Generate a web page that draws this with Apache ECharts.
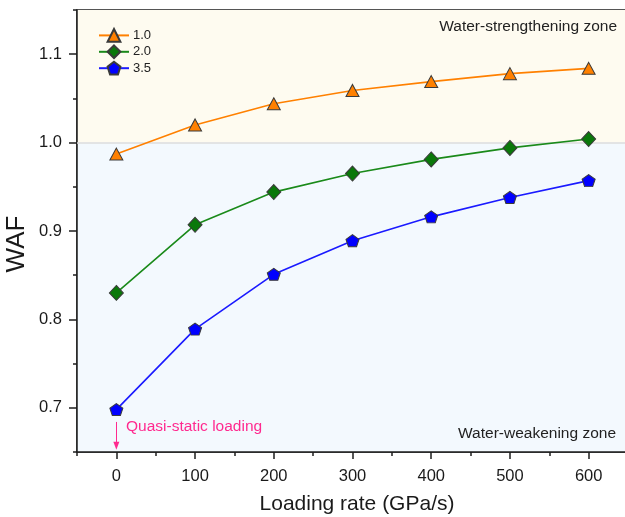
<!DOCTYPE html>
<html>
<head>
<meta charset="utf-8">
<script src="https://cdn.jsdelivr.net/npm/echarts@6/dist/echarts.min.js"></script>
<style>
  html, body { margin: 0; padding: 0; background: #ffffff; }
  #chart { width: 625px; height: 517px; }
</style>
</head>
<body>
<div id="chart"></div>
<script>
// Loading rate (GPa/s) and water adjustment factor for three water contents
const loadingRates = [0, 100, 200, 300, 400, 500, 600];
const seriesNames = ['1.0', '2.0', '3.5'];
const waf10 = [0.987, 1.020, 1.044, 1.059, 1.069, 1.078, 1.084];
const waf20 = [0.830, 0.907, 0.944, 0.965, 0.981, 0.994, 1.004];
const waf35 = [0.698, 0.789, 0.851, 0.889, 0.916, 0.938, 0.957];
const zoneBoundary = 1.0;
const xMajorTicks = [0, 600, 100];      // min, max, step of labelled ticks
const yMajorTicks = [0.7, 1.1, 0.1];

const FONT = 'Liberation Sans, Arial, Helvetica, sans-serif';
const AXIS_COLOR = '#1e1e1e';

// plot area
const G = { left: 77, top: 10, width: 551, height: 442 };
const xMin = -50, xMax = 650, yMin = 0.65, yMax = 1.15;
const pxPerX = G.width / (xMax - xMin);
const pxPerY = G.height / (yMax - yMin);

// second grid carrying the labelled (major) ticks, aligned to the same scale
const G2 = {
  left: G.left + (xMajorTicks[0] - xMin) * pxPerX,
  width: (xMajorTicks[1] - xMajorTicks[0]) * pxPerX,
  top: G.top + (yMax - yMajorTicks[1]) * pxPerY,
  height: (yMajorTicks[1] - yMajorTicks[0]) * pxPerY
};

const pentagon = 'path://M0,-1L0.951,-0.309L0.588,0.809L-0.588,0.809L-0.951,-0.309Z';

function pairs(values) {
  return loadingRates.map((x, i) => [x, values[i]]);
}

function lineSeries(name, values, color, fill, symbol, size) {
  return {
    name: name,
    type: 'line',
    xAxisIndex: 0,
    yAxisIndex: 0,
    data: pairs(values),
    symbol: symbol,
    symbolSize: size,
    showAllSymbol: true,
    lineStyle: { color: color, width: 1.6 },
    itemStyle: { color: fill, borderColor: '#3a3a3a', borderWidth: 1 },
    z: 5
  };
}

const s10 = lineSeries(seriesNames[0], waf10, '#ff8000', '#ff8000', 'triangle', [13, 12]);
s10.markArea = {
  silent: true,
  z: 0,
  data: [
    [{ yAxis: zoneBoundary, itemStyle: { color: '#fefbf0' } }, { yAxis: yMax }],
    [{ yAxis: yMin, itemStyle: { color: '#f3f9fe' } }, { yAxis: zoneBoundary }]
  ]
};
s10.markLine = {
  silent: true,
  symbol: ['none', 'none'],
  label: { show: false },
  lineStyle: { color: '#dcdcdc', width: 1.5, type: 'solid' },
  data: [{ yAxis: zoneBoundary }]
};

const s20 = lineSeries(seriesNames[1], waf20, '#1a8a1a', '#0a780a', 'diamond', [14, 15]);
const s35 = lineSeries(seriesNames[2], waf35, '#1a1aff', '#0000ff', pentagon, [13, 12]);
// quasi-static loading marker arrow
s35.markLine = {
  silent: true,
  symbol: ['none', 'triangle'],
  symbolSize: [6, 8],
  label: { show: false },
  lineStyle: { color: '#ff2a8f', width: 1, type: 'solid' },
  data: [[{ coord: [0, 0.684] }, { coord: [0, 0.657] }]]
};

function note(text, pos, color) {
  return Object.assign({
    type: 'text',
    z: 50,
    style: { text: text, fontFamily: FONT, fontSize: 15.5, fill: color }
  }, pos);
}

const option = {
  animation: false,
  backgroundColor: '#ffffff',
  textStyle: { fontFamily: FONT },
  grid: [
    { left: G.left, top: G.top, width: G.width, height: G.height,
      outerBoundsMode: 'none', containLabel: false,
      show: true, borderColor: AXIS_COLOR, borderWidth: 1.5, backgroundColor: 'transparent' },
    { left: G2.left, top: G2.top, width: G2.width, height: G2.height,
      outerBoundsMode: 'none', containLabel: false, show: false }
  ],
  legend: {
    orient: 'vertical',
    left: 98,
    top: 28,
    padding: 0,
    itemWidth: 30,
    itemHeight: 16,
    itemGap: 1.6,
    textStyle: { fontFamily: FONT, fontSize: 13, color: '#222', padding: [0, 0, 0, -1] },
    data: seriesNames
  },
  xAxis: [
    {
      gridIndex: 0, type: 'value', min: xMin, max: xMax, interval: 50,
      axisLine: { onZero: false, lineStyle: { color: AXIS_COLOR, width: 1.5 } },
      axisTick: { inside: false, length: 4, lineStyle: { color: AXIS_COLOR, width: 1.5 } },
      axisLabel: { show: false },
      splitLine: { show: false },
      name: 'Loading rate (GPa/s)',
      nameLocation: 'middle',
      nameGap: 42,
      nameTextStyle: { fontFamily: FONT, fontSize: 21, color: '#1a1a1a', padding: [0, 0, 0, 9] }
    },
    {
      gridIndex: 1, type: 'value',
      min: xMajorTicks[0], max: xMajorTicks[1], interval: xMajorTicks[2],
      offset: G.top + G.height - (G2.top + G2.height),
      axisLine: { show: false, onZero: false },
      axisTick: { inside: false, length: 7, lineStyle: { color: AXIS_COLOR, width: 1.5 } },
      axisLabel: { margin: 16, fontFamily: FONT, fontSize: 16.5, color: '#1a1a1a' },
      splitLine: { show: false }
    }
  ],
  yAxis: [
    {
      gridIndex: 0, type: 'value', min: yMin, max: yMax, interval: 0.05,
      axisLine: { onZero: false, lineStyle: { color: AXIS_COLOR, width: 1.5 } },
      axisTick: { inside: false, length: 4, lineStyle: { color: AXIS_COLOR, width: 1.5 } },
      axisLabel: { show: false },
      splitLine: { show: false },
      name: 'WAF',
      nameLocation: 'middle',
      nameRotate: 90,
      nameGap: 47,
      nameTextStyle: { fontFamily: FONT, fontSize: 26, color: '#1a1a1a', padding: [0, 26, 0, 0] }
    },
    {
      gridIndex: 1, type: 'value',
      min: yMajorTicks[0], max: yMajorTicks[1], interval: yMajorTicks[2],
      offset: G2.left - G.left,
      axisLine: { show: false, onZero: false },
      axisTick: { inside: false, length: 8, lineStyle: { color: AXIS_COLOR, width: 1.5 } },
      axisLabel: { margin: 15, fontFamily: FONT, fontSize: 16.5, color: '#1a1a1a',
                   formatter: v => v.toFixed(1) },
      splitLine: { show: false }
    }
  ],
  graphic: [
    note('Water-strengthening zone', { right: 8, top: 19 }, '#222'),
    note('Water-weakening zone', { right: 9, top: 426 }, '#222'),
    note('Quasi-static loading', { left: 126, top: 419 }, '#ff2a8f')
  ],
  series: [s10, s20, s35]
};

const chart = echarts.init(document.getElementById('chart'), null, { renderer: 'canvas' });
chart.setOption(option);
</script>
</body>
</html>
